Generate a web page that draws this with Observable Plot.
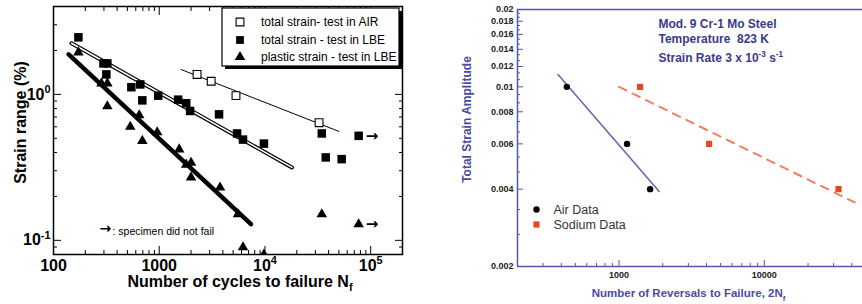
<!DOCTYPE html>
<html><head><meta charset="utf-8">
<script src="https://cdn.jsdelivr.net/npm/d3@7"></script>
<script src="https://cdn.jsdelivr.net/npm/@observablehq/plot@0.6"></script>
<style>
body{margin:0;background:#fff;}
#wrap{display:flex;width:862px;height:304px;overflow:hidden;}
#left{width:440px;height:304px;}
#right{width:422px;height:304px;}
svg{display:block}
</style></head><body><div id="wrap"><div id="left"></div><div id="right"></div></div>
<script>
// ---------- LEFT PANEL DATA ----------
const airN = [2280, 3100, 5320, 32500];
const airS = [1.37, 1.23, 0.98, 0.64];
const lbeN = [172, 297, 323, 316, 545, 662, 692, 978, 1510, 1800, 1960, 3680, 5450, 6200, 9780, 34500, 37600, 53200, 77000];
const lbeS = [2.46, 1.63, 1.63, 1.37, 1.12, 1.17, 0.91, 0.98, 0.92, 0.87, 0.77, 0.73, 0.54, 0.49, 0.46, 0.54, 0.37, 0.36, 0.52];
const plasticN = [172, 284, 323, 323, 532, 647, 692, 957, 1545, 1800, 2000, 2000, 3760, 5560, 6200, 9780, 34500, 77000];
const plasticS = [1.94, 1.19, 1.19, 0.83, 0.60, 0.72, 0.48, 0.55, 0.42, 0.33, 0.34, 0.27, 0.23, 0.151, 0.0896, 0.080, 0.151, 0.129];
const airFitN = [1610, 49900], airFitS = [1.48, 0.558];
const lbeFitN = [148, 18000], lbeFitS = [2.24, 0.316];
const plasticFitN = [139, 7380], plasticFitS = [1.88, 0.129];
const notFailed = [[lbeN[18], lbeS[18]], [plasticN[17], plasticS[17]]];
const legendL = ["total strain- test in AIR", "total strain - test in LBE", "plastic strain - test in LBE"];
const xMajorL = [100, 1000, 1e4, 1e5];
const xLabelsL = ["100", "1000", "10^{4}", "10^{5}"];
const xMinorL = [200,300,400,500,600,700,800,900,2000,3000,4000,5000,6000,7000,8000,9000,20000,30000,40000,50000,60000,70000,80000,90000,200000];
const yMajorL = [0.1, 1];
const yLabelsL = ["10^{-1}", "10^{0}"];
const yMinorL = [0.08,0.09,0.2,0.3,0.4,0.5,0.6,0.7,0.8,0.9,2,3,4];

// ---------- RIGHT PANEL DATA ----------
const airDataN = [437, 1136, 1636];
const airDataS = [0.01, 0.006, 0.004];
const sodiumN = [1396, 4170, 32400];
const sodiumS = [0.01, 0.006, 0.004];
const airLineN = [380, 1890], airLineS = [0.01117, 0.00392];
const sodiumLineN = [1000, 41900], sodiumLineS = [0.01, 0.00355];
const yLabelsR = ["0.002","0.004","0.006","0.008","0.01","0.012","0.014","0.016","0.018","0.02"];
const xMajorR = [1000, 10000];
const xMinorR = [300,400,500,600,700,800,900,2000,3000,4000,5000,6000,7000,8000,9000,20000,30000,40000];
const noteR = ["Mod. 9 Cr-1 Mo Steel", "Temperature  823 K", "Strain Rate 3 x 10^{-3} s^{-1}"];
const legendR = ["Air Data", "Sodium Data"];

const F = "'Liberation Sans', Arial, Helvetica, sans-serif";
const FA = "'DejaVu Sans', sans-serif";

function rich(svg){
  svg.querySelectorAll("text").forEach(t=>{
    if (t.querySelector("tspan")) return;
    const s = t.textContent;
    if (!/[\^_]\{/.test(s)) return;
    const fs = parseFloat(getComputedStyle(t).fontSize) || 10;
    t.textContent = "";
    const re = /([\^_])\{([^}]*)\}|([^\^_]+)/g; let m; let off = 0;
    while ((m = re.exec(s))) {
      const ts = document.createElementNS("http://www.w3.org/2000/svg","tspan");
      if (m[3] !== undefined) {
        ts.textContent = m[3];
        if (off) { ts.setAttribute("dy", -off); off = 0; }
      } else {
        ts.textContent = m[2];
        const shift = m[1] === "^" ? -0.42*fs : 0.3*fs;
        ts.setAttribute("dy", shift - off); off = shift;
        ts.setAttribute("font-size", (0.68*fs) + "px");
      }
      t.appendChild(ts);
    }
  });
}

// ---------- LEFT PLOT ----------
const leftPlot = Plot.plot({
  width: 440, height: 304, marginLeft: 53, marginRight: 38, marginTop: 6, marginBottom: 50,
  style: {fontFamily: F, background: "white", color: "black", overflow: "visible"},
  x: {type: "log", domain: [100, 2e5], axis: null},
  y: {type: "log", domain: [0.08, 4], axis: null},
  marks: [
    Plot.axisX({anchor: "bottom", ticks: xMinorL, tickSize: -4, fill: "none", label: null}),
    Plot.axisX({anchor: "top", ticks: xMinorL, tickSize: -4, fill: "none", label: null}),
    Plot.axisX({anchor: "bottom", ticks: xMajorL, tickSize: -8, fill: "none", label: null}),
    Plot.axisX({anchor: "top", ticks: xMajorL, tickSize: -8, fill: "none", label: null}),
    Plot.axisY({anchor: "left", ticks: yMinorL, tickSize: -4, fill: "none", label: null}),
    Plot.axisY({anchor: "right", ticks: yMinorL, tickSize: -4, fill: "none", label: null}),
    Plot.axisY({anchor: "left", ticks: yMajorL, tickSize: -8, fill: "none", label: null}),
    Plot.axisY({anchor: "right", ticks: yMajorL, tickSize: -8, fill: "none", label: null}),
    Plot.axisX({anchor: "bottom", ticks: xMajorL, tickSize: 0, tickPadding: 5, label: null,
      tickFormat: d => xLabelsL[xMajorL.indexOf(d)], fontSize: 16, fontWeight: "bold"}),
    Plot.axisY({anchor: "left", ticks: yMajorL, tickSize: 0, tickPadding: 3, label: null,
      tickFormat: d => yLabelsL[yMajorL.indexOf(d)], fontSize: 16, fontWeight: "bold"}),
    Plot.frame({stroke: "black", strokeWidth: 1.5}),
    // fit lines
    Plot.line(airFitN.map((n,i)=>[n, airFitS[i]]), {x: "0", y: "1", stroke: "black", strokeWidth: 1}),
    Plot.line(lbeFitN.map((n,i)=>[n, lbeFitS[i]]), {x: "0", y: "1", stroke: "black", strokeWidth: 4}),
    Plot.line(lbeFitN.map((n,i)=>[n, lbeFitS[i]]), {x: "0", y: "1", stroke: "white", strokeWidth: 1.6}),
    Plot.line(plasticFitN.map((n,i)=>[n, plasticFitS[i]]), {x: "0", y: "1", stroke: "black", strokeWidth: 4.5}),
    // points
    Plot.dot(lbeN.map((n,i)=>[n, lbeS[i]]), {x: "0", y: "1", symbol: "square", r: 4.8, fill: "black", stroke: "none"}),
    Plot.dot(plasticN.map((n,i)=>[n, plasticS[i]]), {x: "0", y: "1", symbol: "triangle", r: 3.9, fill: "black", stroke: "none", clip: true}),
    Plot.dot(airN.map((n,i)=>[n, airS[i]]), {x: "0", y: "1", symbol: "square", r: 4.4, fill: "white", stroke: "black", strokeWidth: 1.1}),
    Plot.text(notFailed, {x: "0", y: "1", text: () => "\u2192", dx: 7, textAnchor: "start", fontSize: 15, fontWeight: "bold", fontFamily: FA}),
    // annotation
    Plot.text(["\u2192"], {frameAnchor: "bottom-left", dx: 46, dy: -22, textAnchor: "start", fontSize: 14, fontWeight: "bold", fontFamily: FA}),
    Plot.text([": specimen did not fail"], {frameAnchor: "bottom-left", dx: 59, dy: -20, textAnchor: "start", fontSize: 10.5}),
    // axis titles
    Plot.text(["Strain range (%)"], {frameAnchor: "left", rotate: -90, dx: -33, dy: -8, textAnchor: "middle", lineAnchor: "middle", fontSize: 16, fontWeight: "bold"}),
    Plot.text(["Number of cycles to failure N_{f}"], {frameAnchor: "bottom", dx: 12, dy: 27, textAnchor: "middle", lineAnchor: "middle", fontSize: 16, fontWeight: "bold"})
  ]
});
document.getElementById("left").appendChild(leftPlot);
rich(leftPlot);
// legend box (left)
{
  const g = d3.select(leftPlot).append("g").attr("font-family", F).attr("text-anchor", "start");
  g.append("rect").attr("x", 225).attr("y", 11).attr("width", 177).attr("height", 58).attr("fill", "black");
  g.append("rect").attr("x", 222).attr("y", 8).attr("width", 177).attr("height", 58).attr("fill", "white").attr("stroke", "black").attr("stroke-width", 1.2);
  const rows = [22, 40, 57];
  const sym = [d3.symbolSquare, d3.symbolSquare, d3.symbolTriangle];
  legendL.forEach((t, i) => {
    const p = g.append("path").attr("transform", `translate(240,${rows[i]})`)
      .attr("d", d3.symbol(sym[i], i === 2 ? Math.PI*3.9*3.9 : Math.PI*4.4*4.4)());
    if (i === 0) p.attr("fill", "white").attr("stroke", "black").attr("stroke-width", 1.1);
    else p.attr("fill", "black");
    g.append("text").attr("x", 261).attr("y", rows[i]).attr("dy", "0.35em").attr("font-size", 12)
      .attr("text-anchor", "start").attr("fill", "black").text(t);
  });
}

// ---------- RIGHT PLOT ----------
const AX = "#5656a8", TITLE = "#4b4b9e", NOTE = "#3a3a8a";
const yMajorR = yLabelsR.map(Number);
const yMinorR = [];
for (let i = 0; i < yMajorR.length - 1; i++) {
  const a = yMajorR[i], b = yMajorR[i+1];
  yMinorR.push(a + (b-a)/3, a + 2*(b-a)/3);
}
const legendRows = [200, 215], noteRows = [15, 30, 49];
const rightPlot = Plot.plot({
  width: 422, height: 304, marginLeft: 77, marginRight: 0, marginTop: 9, marginBottom: 38,
  style: {fontFamily: F, background: "white", color: "black", overflow: "visible"},
  x: {type: "log", domain: [200, 47400], axis: null},
  y: {type: "log", domain: [0.002, 0.02], axis: null},
  marks: [
    Plot.axisX({anchor: "bottom", ticks: xMinorR, tickSize: -3, fill: "none", label: null, stroke: AX}),
    Plot.axisX({anchor: "bottom", ticks: xMajorR, tickSize: -6, fill: "none", label: null, stroke: AX}),
    Plot.axisY({anchor: "left", ticks: yMinorR, tickSize: -3, fill: "none", label: null, stroke: AX}),
    Plot.axisY({anchor: "left", ticks: yMajorR, tickSize: -6, fill: "none", label: null, stroke: AX}),
    Plot.axisX({anchor: "bottom", ticks: xMajorR, tickSize: 0, tickPadding: 5, label: null,
      tickFormat: d => String(d), fontSize: 9, fontWeight: "bold", fill: "#222"}),
    Plot.axisY({anchor: "left", ticks: yMajorR, tickSize: 0, tickPadding: 4, label: null,
      tickFormat: d => yLabelsR[yMajorR.indexOf(d)], fontSize: 9, fontWeight: "bold", fill: "#222"}),
    Plot.ruleY([0.02], {stroke: AX, strokeWidth: 1.5}),
    Plot.ruleY([0.002], {stroke: AX, strokeWidth: 1.5}),
    Plot.ruleX([200], {stroke: AX, strokeWidth: 1.5}),
    Plot.line(airLineN.map((n,i)=>[n, airLineS[i]]), {x: "0", y: "1", stroke: "#6464b4", strokeWidth: 1.5}),
    Plot.line(sodiumLineN.map((n,i)=>[n, sodiumLineS[i]]), {x: "0", y: "1", stroke: "#f27e62", strokeWidth: 2, strokeDasharray: "8,7"}),
    Plot.dot(airDataN.map((n,i)=>[n, airDataS[i]]), {x: "0", y: "1", r: 3.2, fill: "black", stroke: "none"}),
    Plot.dot(sodiumN.map((n,i)=>[n, sodiumS[i]]), {x: "0", y: "1", symbol: "square", r: 3.5, fill: "#e8461e", stroke: "none"}),
    // legend
    Plot.dot([0], {frameAnchor: "top-left", dx: 19, dy: legendRows[0], r: 3.2, fill: "black", stroke: "none"}),
    Plot.dot([0], {frameAnchor: "top-left", dx: 19, dy: legendRows[1], r: 3.5, symbol: "square", fill: "#e8461e", stroke: "none"}),
    ...legendR.map((t, i) => Plot.text([t], {frameAnchor: "top-left", dx: 36, dy: legendRows[i], textAnchor: "start", lineAnchor: "middle", fontSize: 12.5, fill: "#333"})),
    // notes
    ...noteR.map((t, i) => Plot.text([t], {frameAnchor: "top-left", dx: 141, dy: noteRows[i], textAnchor: "start", lineAnchor: "middle", fontSize: 12, fontWeight: "bold", fill: NOTE})),
    // titles
    Plot.text(["Total Strain Amplitude"], {frameAnchor: "left", rotate: -90, dx: -50, dy: -18.5, textAnchor: "middle", lineAnchor: "middle", fontSize: 12, fontWeight: "bold", fill: TITLE}),
    Plot.text(["Number of Reversals to Failure, 2N_{f}"], {frameAnchor: "bottom", dx: -1.5, dy: 27, textAnchor: "middle", lineAnchor: "middle", fontSize: 11.5, fontWeight: "bold", fill: TITLE})
  ]
});
document.getElementById("right").appendChild(rightPlot);
rich(rightPlot);
</script></body></html>
